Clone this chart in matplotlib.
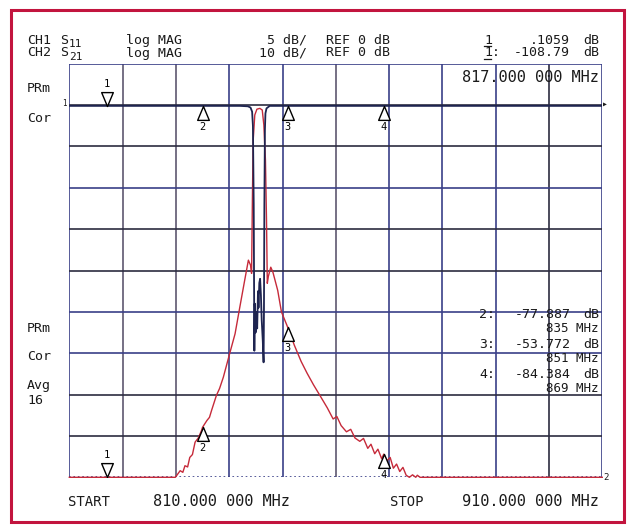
import matplotlib
matplotlib.use("Agg")
import matplotlib.pyplot as plt
from matplotlib.patches import Rectangle
from matplotlib.lines import Line2D
from matplotlib.path import Path
import numpy as np

# Frequency span (MHz)
f_start = 810
f_stop = 910

# CH2 S21, 10 dB/div, ref 0 dB (floor shown clipped at the bottom line)
s21_f = [810, 829.9, 830.8, 831.3, 831.7, 832.2, 832.6, 833.1, 833.6, 834.2,
         834.8, 835.0, 835.8, 836.3, 836.7, 837.6, 838.2, 838.9, 840.0, 841.1,
         842.0, 842.9, 843.6, 844.0, 844.2, 844.35, 844.5, 844.8, 845.2, 845.75,
         846.2, 846.5, 846.8, 847.0, 847.15, 847.35, 847.8, 848.2, 849.1, 849.8,
         851.0, 852.2, 853.5, 854.6, 855.8, 857.2, 858.4, 859.5, 860.2, 861.0,
         862.0, 862.8, 863.6, 864.5, 865.2, 866.0, 866.6, 867.3, 867.9, 868.6,
         869.0, 869.6, 870.2, 870.8, 871.4, 872.0, 872.6, 873.2, 873.8, 874.4,
         875.0, 875.3, 875.8, 910]
s21_db = [-90, -90, -88.4, -88.8, -87.2, -87.5, -85.2, -84.5, -81.5, -80.5,
          -78.7, -77.9, -76.3, -75.5, -73.8, -70.2, -68.5, -65.8, -60.5, -55.3,
          -48.8, -42.4, -37.5, -38.7, -40.7, -23.0, -8.5, -2.4, -1.0, -0.8,
          -1.2, -4.8, -13.3, -27.8, -43.1, -41.4, -39.2, -40.4, -44.8, -50.0,
          -53.8, -58.0, -62.0, -64.8, -67.6, -70.6, -73.2, -75.9, -75.3, -77.5,
          -79.0, -78.4, -80.5, -81.3, -80.6, -83.0, -82.0, -84.3, -83.2, -85.5,
          -84.4, -86.0, -85.2, -87.8, -86.8, -88.6, -87.6, -89.5, -90.0, -89.4,
          -90.0, -89.5, -90.0, -90]

# CH1 S11, 5 dB/div, ref 0 dB
s11_f = [810, 842, 843.5, 844.0, 844.3, 844.45, 844.6, 844.72, 844.8, 844.95,
         845.1, 845.25, 845.4, 845.5, 845.65, 845.8, 845.95, 846.1, 846.3, 846.45,
         846.52, 846.6, 846.7, 846.8, 847.0, 847.6, 910]
s11_db = [-0.1, -0.1, -0.15, -0.3, -0.8, -2.5, -12, -29.7, -24, -27.5,
          -25, -27, -22.5, -24.5, -21.5, -21, -23, -26, -28.5, -31.1,
          -25, -12, -3, -1.0, -0.4, -0.1, -0.1]

marker_f = [817, 835, 851, 869]
marker_s21 = [-90, -77.887, -53.772, -84.384]

W, H = 635, 529


def fx(x):
    return x / W


def fy(y):
    return 1 - y / H


fig = plt.figure(figsize=(W / 100, H / 100), dpi=100)
fig.patch.set_facecolor('white')

# outer crimson frame
fig.add_artist(Rectangle((fx(11), fy(522)), (624 - 11) / W, (522 - 10) / H,
                         fill=False, ec='#c2143e', lw=2.2, transform=fig.transFigure))

ax = fig.add_axes([fx(69.3), fy(477.3), (602.3 - 69.3) / W, (477.3 - 63.7) / H])
ax.set_xlim(f_start, f_stop)
ax.set_ylim(-90, 10)
ax.set_xticks([])
ax.set_yticks([])
for s in ax.spines.values():
    s.set_visible(False)

ax2 = ax.twinx()
ax2.set_ylim(-45, 5)
ax2.set_yticks([])
for s in ax2.spines.values():
    s.set_visible(False)

# graticule
dark = '#2c2c40'
navy = '#3a3f88'
grey = '#5e5870'
vcols = [navy, grey, grey, navy, navy, grey, navy, navy, navy, dark, navy]
for i, f in enumerate(np.arange(f_start, f_stop + 1, 10)):
    ax.axvline(f, color=vcols[i], lw=1.2, zorder=1)
hcols = [navy, dark, dark, navy, dark, dark, navy, navy, dark, dark, navy]
hstyles = ['-'] * 10 + [':']
for i, v in enumerate(np.arange(10, -91, -10)):
    ax.axhline(v, color=hcols[i], lw=1.2, ls=hstyles[i], zorder=1)

ax.plot(s21_f, s21_db, color='#c62a3a', lw=1.0, zorder=3, clip_on=False)
ax2.plot(s11_f, s11_db, color='#1e2450', lw=1.3, zorder=4)

up = Path([(0, 0), (-0.42, -1), (0.42, -1), (0, 0)],
          [Path.MOVETO, Path.LINETO, Path.LINETO, Path.CLOSEPOLY])
down = Path([(0, 0), (-0.42, 1), (0.42, 1), (0, 0)],
            [Path.MOVETO, Path.LINETO, Path.LINETO, Path.CLOSEPOLY])

mono = 'DejaVu Sans Mono'

# CH1 markers (top trace)
s11_at = np.interp(marker_f, s11_f, s11_db)
for k, (f, v) in enumerate(zip(marker_f, s11_at)):
    mk = down if k == 0 else up
    ax2.plot([f], [v], marker=mk, ms=20, mfc='white', mec='black', mew=1.0, zorder=6)
    dy = 22 if k == 0 else -21
    ax2.annotate(str(k + 1), xy=(f, v), xytext=(0, dy), textcoords='offset pixels',
                 ha='center', va='center', fontsize=7.5, family=mono, zorder=7)

# CH2 markers (S21 trace)
for k, (f, v) in enumerate(zip(marker_f, marker_s21)):
    mk = down if k == 0 else up
    ax.plot([f], [v], marker=mk, ms=20, mfc='white', mec='black', mew=1.0, zorder=6)
    dy = 22 if k == 0 else -21
    ax.annotate(str(k + 1), xy=(f, v), xytext=(0, dy), textcoords='offset pixels',
                ha='center', va='center', fontsize=7.5, family=mono, zorder=7)

fs = 9.5


def t(x, y, s, ha='left', size=fs):
    fig.text(fx(x), fy(y), s, ha=ha, va='center', fontsize=size, family=mono, color='#1a1a1a')


# header
t(27, 40, 'CH1')
t(60, 40, 'S')
t(69, 44, '11', size=8)
t(126, 40, 'log MAG')
t(307, 40, '5 dB/', ha='right')
t(326, 40, 'REF 0 dB')
t(27, 53, 'CH2')
t(60, 53, 'S')
t(69, 57, '21', size=8)
t(126, 53, 'log MAG')
t(307, 53, '10 dB/', ha='right')
t(326, 53, 'REF 0 dB')

t(484, 40, '1')
t(570, 40, '.1059', ha='right')
t(599, 40, 'dB', ha='right')
t(484, 53, '1:')
t(570, 53, '-108.79', ha='right')
t(599, 53, 'dB', ha='right')
for y in (45.5, 58.5):
    fig.add_artist(Line2D([fx(484), fx(491)], [fy(y), fy(y)], color='#1a1a1a', lw=0.9))

t(599, 77, '817.000 000 MHz', ha='right', size=11)

# left annotations
t(27, 88, 'PRm')
t(27, 118, 'Cor')
t(27, 328, 'PRm')
t(27, 357, 'Cor')
t(27, 386, 'Avg')
t(27, 401, '16')

# marker readouts
rows = [(315, 329, '2:', '-77.887', '835 MHz'),
        (345, 359, '3:', '-53.772', '851 MHz'),
        (375, 389, '4:', '-84.384', '869 MHz')]
for y1, y2, lab, val, fr in rows:
    t(479, y1, lab, size=9.5)
    t(571, y1, val, ha='right', size=9.5)
    t(599, y1, 'dB', ha='right', size=9.5)
    t(599, y2, fr, ha='right', size=9)

# reference position indicators
t(62, 103, '1', size=5.5)
t(602, 104, '\u25b8', size=7)
t(603, 478, '2', size=6.5)

# footer
t(68, 502, 'START', size=10)
t(290, 502, '810.000 000 MHz', ha='right', size=11)
t(390, 502, 'STOP', size=10)
t(599, 502, '910.000 000 MHz', ha='right', size=11)

fig.savefig('out.png', dpi=100)
